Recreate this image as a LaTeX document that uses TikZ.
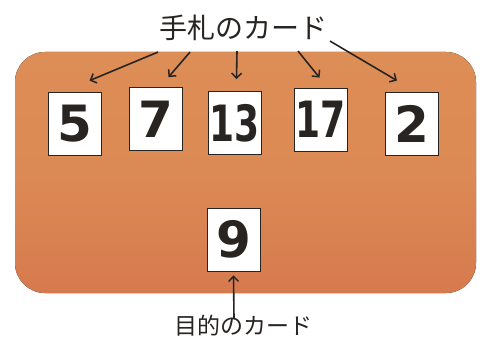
\documentclass[tikz,border=0pt]{standalone}
\usepackage{fontspec}
\usepackage{graphicx}
\setmainfont{DejaVu Sans}
\newfontfamily\jpfont{Noto Sans CJK JP}
\usetikzlibrary{arrows.meta}
\definecolor{tabletop}{RGB}{221,141,86}
\definecolor{tablebot}{RGB}{214,122,78}
\definecolor{pen}{RGB}{40,36,34}
\newcommand{\narrow}[1]{\scalebox{0.72}[1]{#1}}
\begin{document}
\begin{tikzpicture}[
x=1pt,y=-1pt,
card/.style={draw=pen,line width=0.8pt,fill=white,minimum width=53pt,minimum height=63pt,inner sep=0pt,font=\fontsize{50}{50}\selectfont\bfseries,text=pen},
tag/.style={anchor=center,inner sep=0pt,text=pen},
arr/.style={draw=pen,line width=1.6pt,-{Straight Barb[length=5pt,width=10pt,line width=1.5pt]}},
]
%\draw[help lines](0,0)grid[step=20](487,345);
\useasboundingbox (0,0) rectangle (487,345);
% table
\fill[rounded corners=30pt,top color=tabletop,bottom color=tablebot,middle color=tabletop!85!tablebot] (15,52) rectangle (476,293);

% hand cards
\node[card] (c5) at (74.5,123.5) {5};
\node[card] (c7) at (155.5,119) {7};
\node[card] (c13) at (234.5,123) {\narrow{13}};
\node[card] (c17) at (320.5,119.5) {\narrow{17}};
\node[card] (c2) at (412,123.5) {2};
% goal card
\node[card] (goal) at (233.5,239.5) {9};

% labels
\node[tag,font=\jpfont\fontsize{28}{28}\selectfont] (hand) at (243,28) {手札のカード};
\node[tag,font=\jpfont\fontsize{23}{23}\selectfont] (target) at (243,326) {目的のカード};

\draw[arr] ([xshift=-85pt,yshift=-11pt]hand.south) -- ([xshift=15pt,yshift=11pt]c5.north);
\draw[arr] ([xshift=-53pt,yshift=-11pt]hand.south) -- ([xshift=13pt,yshift=10pt]c7.north);
\draw[arr] ([xshift=-6pt,yshift=-10pt]hand.south) -- ([xshift=2pt,yshift=12pt]c13.north);
\draw[arr] ([xshift=55pt,yshift=-10pt]hand.south) -- ([xshift=-1pt,yshift=10pt]c17.north);
\draw[arr] ([xshift=87pt,yshift=0pt]hand.south) -- ([xshift=-15pt,yshift=11pt]c2.north);
\draw[arr] ([xshift=-9pt,yshift=-3pt]target.north) -- ([yshift=-4pt]goal.south);

\end{tikzpicture}
\end{document}
